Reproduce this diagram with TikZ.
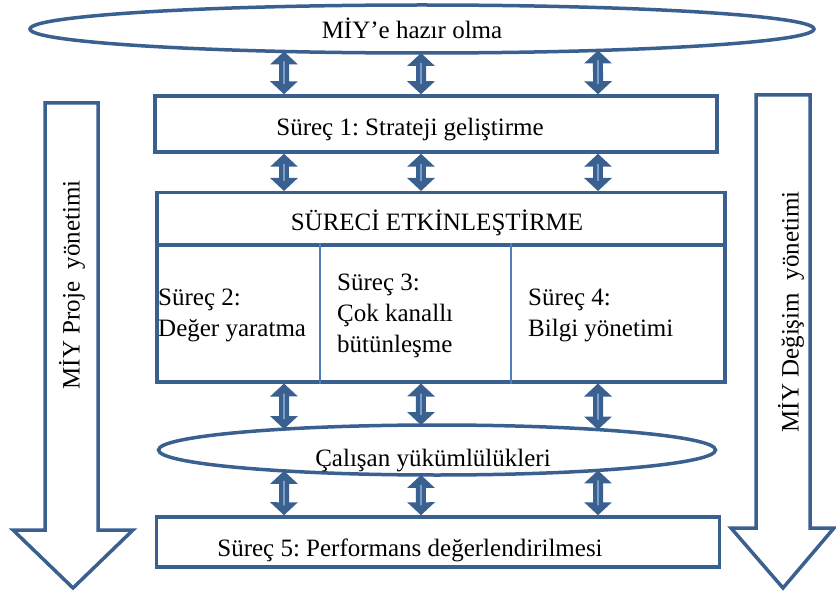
\documentclass[tikz,border=0pt]{standalone}
\usepackage{fontspec}
\setmainfont{Liberation Serif}
\usetikzlibrary{arrows.meta,shapes.geometric,intersections}
\definecolor{frame}{HTML}{3A6090}
\definecolor{divider}{HTML}{4F7FBA}
\definecolor{stripe}{HTML}{7A9DCC}
\frenchspacing
% two-headed block arrow with a light stripe along its middle
\newcommand\linkpair[2]{%
  \draw[dbl] (#1) -- (#2);
  \draw[stripeline] (#1) -- (#2);}
\begin{document}
\begin{tikzpicture}[x=1pt,y=-1pt,
  every node/.style={font=\fontsize{25}{31}\selectfont},
  outline/.style={draw=frame, line width=3.5pt},
  boxnode/.style={outline, fill=white, inner sep=0pt},
  ovalnode/.style={outline, fill=white, ellipse, inner sep=0pt},
  label/.style={inner sep=0pt, anchor=base},
  cell/.style={inner sep=0pt, anchor=north west, align=left},
  dividerline/.style={draw=divider, line width=1.3pt},
  dbl/.style={draw=frame, line width=10pt,
    {Triangle[width=27pt,length=13pt]}-{Triangle[width=27pt,length=13pt]}},
  stripeline/.style={draw=stripe, line width=1.6pt, shorten <=10pt, shorten >=10pt},
  bigarrow/.style={outline, line join=miter, fill=white},
  sidetext/.style={rotate=90, inner sep=0pt}
]
\useasboundingbox (0,0) rectangle (836,591);

% side arrows: project management and change management
\draw[bigarrow] (45,103) -- (98,103) -- (98,530) -- (133,530) -- (73,588)
  -- (13,530) -- (45,530) -- cycle;
\node[sidetext] (proje) at (72,285) {MİY Proje\ \ yönetimi};
\draw[bigarrow] (756,95) -- (810,95) -- (810,528) -- (834,528) -- (783,588)
  -- (731,528) -- (756,528) -- cycle;
\node[sidetext] (degisim) at (791,312) {MİY Değişim\ \ yönetimi};

% main stack
\node[ovalnode, name path=E1, minimum width=784pt, minimum height=48pt] (e1) at (422,29) {};
\node[label] (e1t) at (412,39) {MİY’e hazır olma};

\node[boxnode, minimum width=562pt, minimum height=56pt] (s1) at (436,124) {};
\node[label] (s1t) at (410,136) {Süreç 1: Strateji geliştirme};

\node[boxnode, anchor=north west, minimum width=568pt, minimum height=52pt] (hdr) at (155,191) {};
\node[label] (hdrt) at (437,230) {SÜRECİ ETKİNLEŞTİRME};
\node[boxnode, anchor=north west, minimum width=568pt, minimum height=137pt] (body) at (155,243) {};

\coordinate (d1) at (320,0);
\coordinate (d2) at (511,0);
\draw[dividerline] (body.north -| d1) -- (body.south -| d1);
\draw[dividerline] (body.north -| d2) -- (body.south -| d2);

\node[cell] (p2) at (158,289) {Süreç 2:\\Değer yaratma};
\node[cell] (p3) at (337,274) {Süreç 3:\\Çok kanallı\\bütünleşme};
\node[cell] (p4) at (528,289) {Süreç 4:\\Bilgi yönetimi};

\node[ovalnode, name path=E2, minimum width=557pt, minimum height=50pt] (e2) at (437,450) {};
\node[label] (e2t) at (433,466) {Çalışan yükümlülükleri};

\node[boxnode, minimum width=563pt, minimum height=50pt] (s5) at (438,542) {};
\node[label] (s5t) at (410,556) {Süreç 5: Performans değerlendirilmesi};

% arrow columns
\coordinate (x1) at (284,0);
\coordinate (x2) at (421,0);
\coordinate (x3) at (598,0);
\path[name path=col1] (x1) -- ++(0,600);
\path[name path=col2] (x2) -- ++(0,600);
\path[name path=col3] (x3) -- ++(0,600);

\foreach \c in {1,2,3} {
  \path[name intersections={of=E1 and col\c, sort by=col\c, by={e1top\c,e1bot\c}}];
  \path[name intersections={of=E2 and col\c, sort by=col\c, by={e2top\c,e2bot\c}}];
  \linkpair{e1bot\c}{s1.north -| x\c}
  \linkpair{s1.south -| x\c}{hdr.north -| x\c}
  \linkpair{body.south -| x\c}{e2top\c}
  \linkpair{e2bot\c}{s5.north -| x\c}
}
\end{tikzpicture}
\end{document}
